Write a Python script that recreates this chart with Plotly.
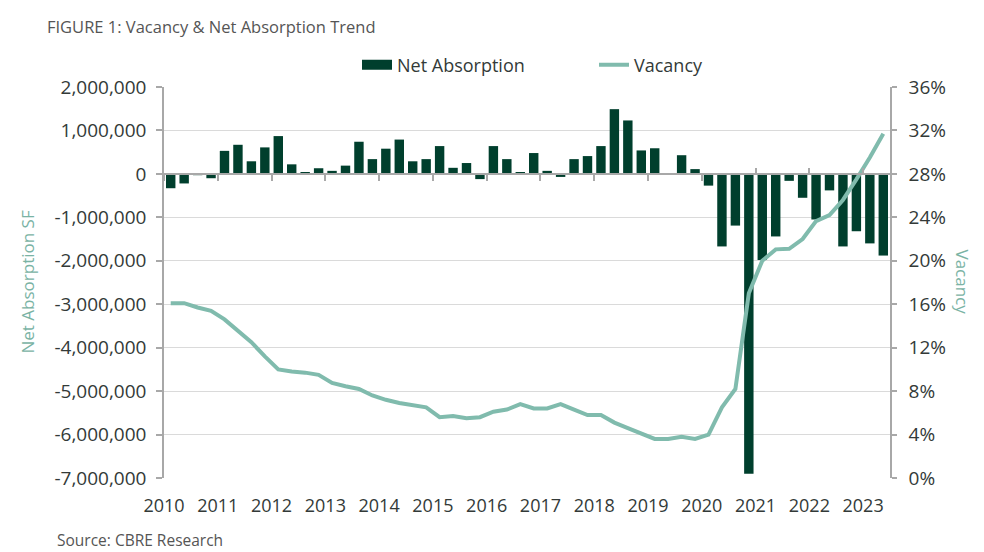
import plotly.graph_objects as go

# ---------------- data ----------------
quarters = [f"{y} Q{q}" for y in range(2010, 2024) for q in range(1, 5)][:54]

net_absorption = [
    -330000, -220000, -30000, -100000,      # 2010
    530000, 670000, 290000, 610000,         # 2011
    870000, 220000, 30000, 130000,          # 2012
    70000, 190000, 740000, 340000,          # 2013
    580000, 790000, 290000, 340000,         # 2014
    640000, 140000, 250000, -120000,        # 2015
    640000, 340000, 40000, 480000,          # 2016
    70000, -70000, 340000, 410000,          # 2017
    640000, 1490000, 1230000, 540000,       # 2018
    590000, 10000, 430000, 110000,          # 2019
    -270000, -1670000, -1190000, -6900000,  # 2020
    -1980000, -1440000, -160000, -550000,   # 2021
    -1050000, -380000, -1670000, -1320000,  # 2022
    -1600000, -1880000,                     # 2023
]

vacancy = [
    16.1, 16.1, 15.7, 15.4, 14.6, 13.5, 12.5, 11.2, 10.0, 9.8,
    9.7, 9.5, 8.75, 8.45, 8.2, 7.6, 7.2, 6.9, 6.7, 6.5,
    5.6, 5.7, 5.5, 5.6, 6.1, 6.3, 6.8, 6.4, 6.4, 6.8,
    6.3, 5.8, 5.8, 5.1, 4.6, 4.1, 3.6, 3.6, 3.8, 3.6,
    4.0, 6.5, 8.2, 17.0, 20.0, 21.05, 21.1, 22.0, 23.65, 24.2,
    25.6, 27.5, 29.5, 31.7,
]

year_ticks = list(range(2010, 2024))
left_ticks = list(range(-7_000_000, 2_000_001, 1_000_000))
right_ticks = list(range(0, 37, 4))


def qpos(label):
    y, q = label.split(" Q")
    return int(y) + (int(q) - 0.5) / 4


x = [qpos(q) for q in quarters]

# ---------------- styling ----------------
W, H = 984, 552
L, R, T, B = 164, 94, 87, 74
pw, ph = W - L - R, H - T - B

DARK = "#003F2D"
TEAL = "#80BBAD"
TITLE_TEAL = "#7AB3A4"
TXT = "#333a38"
GRID = "#dadada"
AXIS = "#a8a8a8"
FONT = "Open Sans"

zero_frac = (0 - left_ticks[0]) / (left_ticks[-1] - left_ticks[0])

fig = go.Figure()
fig.add_trace(go.Bar(
    x=x, y=net_absorption, width=0.175,
    marker=dict(color=DARK, line=dict(width=0)),
    name="Net Absorption", showlegend=False, legendgroup="na",
))
fig.add_trace(go.Scatter(
    x=[None], y=[None], mode="lines",
    line=dict(color=DARK, width=11),
    name="Net Absorption", legendgroup="na",
))
fig.add_trace(go.Scatter(
    x=x, y=vacancy, mode="lines",
    line=dict(color=TEAL, width=4),
    name="Vacancy", yaxis="y2",
))
# carriers for the zero-crossing category axis
fig.add_trace(go.Scatter(x=[None], y=[None], xaxis="x2", yaxis="y",
                         showlegend=False, hoverinfo="skip"))
fig.add_trace(go.Scatter(x=[None], y=[None], xaxis="x3", yaxis="y",
                         showlegend=False, hoverinfo="skip"))

axis_common = dict(showgrid=False, zeroline=False)

fig.update_layout(
    width=W, height=H,
    margin=dict(l=L, r=R, t=T, b=B),
    paper_bgcolor="white", plot_bgcolor="white",
    font=dict(family=FONT, color=TXT),
    title=dict(
        text="FIGURE 1: Vacancy & Net Absorption Trend",
        x=47 / W, xref="container", xanchor="left",
        y=1 - 27 / H, yref="container", yanchor="middle",
        font=dict(size=16.5, color="#555555", family=FONT),
    ),
    xaxis=dict(
        range=[year_ticks[0], year_ticks[-1] + 0.5],
        tickvals=year_ticks, ticktext=[str(y) for y in year_ticks],
        ticks="", showline=False, tickfont=dict(size=18, color=TXT),
        ticklabelstandoff=15, **axis_common,
    ),
    xaxis2=dict(
        overlaying="x", matches="x", anchor="free", position=zero_frac,
        side="bottom", showline=True, linecolor=AXIS, linewidth=1.5,
        ticks="outside", ticklen=6, tickwidth=1.5, tickcolor=AXIS,
        tickvals=[y for y in year_ticks if y <= 2020],
        showticklabels=False, **axis_common,
    ),
    xaxis3=dict(
        overlaying="x", matches="x", anchor="free", position=zero_frac,
        side="bottom", showline=False,
        ticks="inside", ticklen=6, tickwidth=1.5, tickcolor=AXIS,
        tickvals=[y for y in year_ticks if y > 2020],
        showticklabels=False, **axis_common,
    ),
    yaxis=dict(
        range=[left_ticks[0], left_ticks[-1]],
        tickvals=left_ticks, ticktext=[f"{v:,}" for v in left_ticks],
        showgrid=True, gridcolor=GRID, gridwidth=1.2, zeroline=False,
        showline=True, linecolor=AXIS, linewidth=1.5,
        ticks="outside", ticklen=6, tickwidth=1.5, tickcolor=AXIS,
        tickfont=dict(size=19, color=TXT), ticklabelstandoff=6,
    ),
    yaxis2=dict(
        overlaying="y", side="right",
        range=[right_ticks[0], right_ticks[-1]],
        tickvals=right_ticks, ticktext=[f"{v}%" for v in right_ticks],
        showgrid=False, zeroline=False,
        showline=True, linecolor=AXIS, linewidth=1.5,
        ticks="outside", ticklen=5, tickwidth=1.5, tickcolor=AXIS,
        tickfont=dict(size=19, color=TXT), ticklabelstandoff=8,
    ),
    legend=dict(
        orientation="h", x=(357 - L) / pw, xanchor="left",
        y=1 + (T - 65) / ph, yanchor="middle",
        font=dict(size=18, color=TXT), bgcolor="rgba(0,0,0,0)",
        traceorder="normal", entrywidth=192, entrywidthmode="pixels",
    ),
    showlegend=True,
    annotations=[
        dict(text="Net Absorption SF", textangle=-90,
             x=(27 - L) / pw, xref="paper", xanchor="center",
             y=0.5, yref="paper", yanchor="middle", showarrow=False,
             font=dict(size=17, color=TITLE_TEAL)),
        dict(text="Vacancy", textangle=90,
             x=(962 - L) / pw, xref="paper", xanchor="center",
             y=0.5, yref="paper", yanchor="middle", showarrow=False,
             font=dict(size=17, color=TITLE_TEAL)),
        dict(text="Source: CBRE Research",
             x=(55 - L) / pw, xref="paper", xanchor="left",
             y=(H - B - 540) / ph, yref="paper", yanchor="middle",
             showarrow=False, font=dict(size=15.5, color="#555555")),
    ],
)

fig.write_html("out.html", config={"displayModeBar": False},
               post_script="document.body.style.margin='0px';")
